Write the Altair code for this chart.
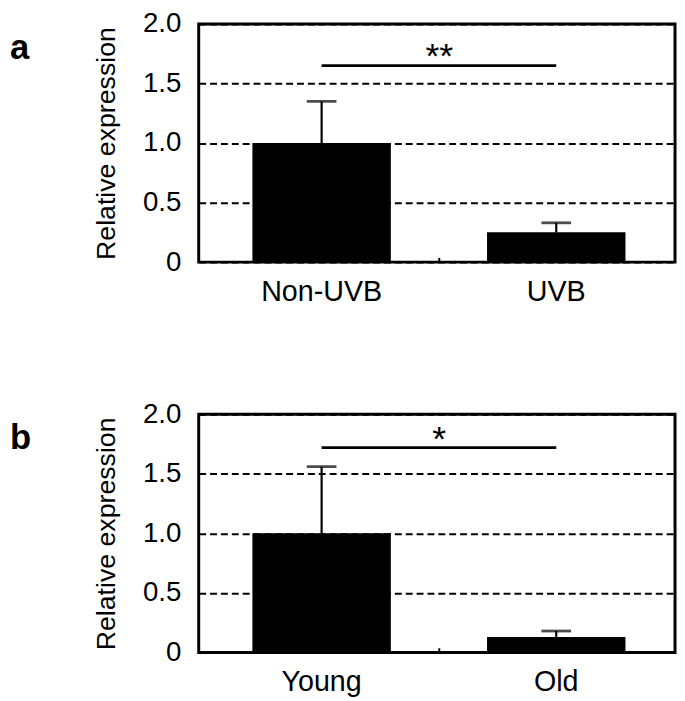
import altair as alt
import pandas as pd

# ---- data ----
cats_a = ["Non-UVB", "UVB"]
mean_a = [1.0, 0.25]
upper_a = [1.35, 0.33]
sig_a = 1.65
star_a = "**"
star_y_a = 1.78

cats_b = ["Young", "Old"]
mean_b = [1.0, 0.13]
upper_b = [1.56, 0.18]
sig_b = 1.72
star_b = "*"
star_y_b = 1.84

y_ticks = [0, 0.5, 1.0, 1.5, 2.0]
y_title = "Relative expression"

FONT = "Liberation Sans"
W, H = 482, 241
GAP_HALF = 49  # half of the gap between the two bars


def panel(label, cats, means, uppers, sig, star, star_y):
    df = pd.DataFrame({"cat": cats, "mean": means, "upper": uppers})
    xs = alt.Scale(domain=cats, paddingInner=0.41, paddingOuter=0.22, align=0.52)
    ys = alt.Scale(domain=[0, 2], nice=False, zero=True)
    x_axis = alt.Axis(title=None, labelAngle=0, labelFontSize=29, labelPadding=16,
                      ticks=False, domain=False, grid=False, labelFont=FONT,
                      labelColor="black")
    y_axis = alt.Axis(values=y_ticks,
                      labelExpr="datum.value == 0 ? '0' : format(datum.value, '.1f')",
                      labelFontSize=28, labelFont=FONT, labelColor="black",
                      labelPadding=18, ticks=False, domain=False, grid=True,
                      gridColor="black", gridDash=[7, 4], gridWidth=2,
                      title=y_title, titleFontSize=27, titleFont=FONT,
                      titleFontWeight="normal", titleColor="black", titlePadding=22)
    X = alt.X("cat:N", scale=xs, sort=cats, axis=x_axis)
    Y = alt.Y("mean:Q", scale=ys, axis=y_axis)

    base = alt.Chart(df)
    bars = base.mark_bar(color="black").encode(x=X, y=Y)
    err = base.mark_rule(color="black", strokeWidth=2.2).encode(
        x=X, y=alt.Y("mean:Q", scale=ys), y2="upper:Q")
    cap = base.mark_tick(color="black", size=30, thickness=2.8, orient="horizontal").encode(
        x=X, y=alt.Y("upper:Q", scale=ys))

    sig_df = pd.DataFrame({"c1": [cats[0]], "c2": [cats[1]], "y": [sig],
                           "star": [star], "sy": [star_y]})
    sig_line = alt.Chart(sig_df).mark_rule(color="black", strokeWidth=2.8).encode(
        x=alt.X("c1:N", scale=xs, sort=cats), x2="c2:N", y=alt.Y("y:Q", scale=ys))
    star_txt = alt.Chart(sig_df).mark_text(fontSize=36, font=FONT, color="black",
                                           baseline="middle", dy=7,
                                           xOffset=GAP_HALF).encode(
        x=alt.X("c1:N", scale=xs, sort=cats, bandPosition=1),
        y=alt.Y("sy:Q", scale=ys), text="star:N")

    tick_df = pd.DataFrame({"c": [cats[0]]})
    mid_tick = alt.Chart(tick_df).mark_rule(color="black", strokeWidth=2,
                                            xOffset=GAP_HALF).encode(
        x=alt.X("c:N", scale=xs, sort=cats, bandPosition=1),
        y=alt.datum(0, scale=ys), y2=alt.datum(0.035))

    lab_df = pd.DataFrame({"lab": [label]})
    lab = alt.Chart(lab_df).mark_text(fontSize=35, font=FONT, fontWeight="bold",
                                      color="black", align="left",
                                      baseline="alphabetic").encode(
        x=alt.value(-191), y=alt.value(35), text="lab:N")

    return alt.layer(bars, err, cap, sig_line, star_txt, mid_tick, lab).properties(
        width=W, height=H)


pa = panel("a", cats_a, mean_a, upper_a, sig_a, star_a, star_y_a)
pb = panel("b", cats_b, mean_b, upper_b, sig_b, star_b, star_y_b)

chart = alt.vconcat(pa, pb, spacing=154, bounds="flush").properties(
    padding={"left": 0, "top": -4, "right": 0, "bottom": 0}
).configure_view(stroke="black", strokeWidth=3)

chart.save("out.html", embed_options={"renderer": "svg", "actions": False})
